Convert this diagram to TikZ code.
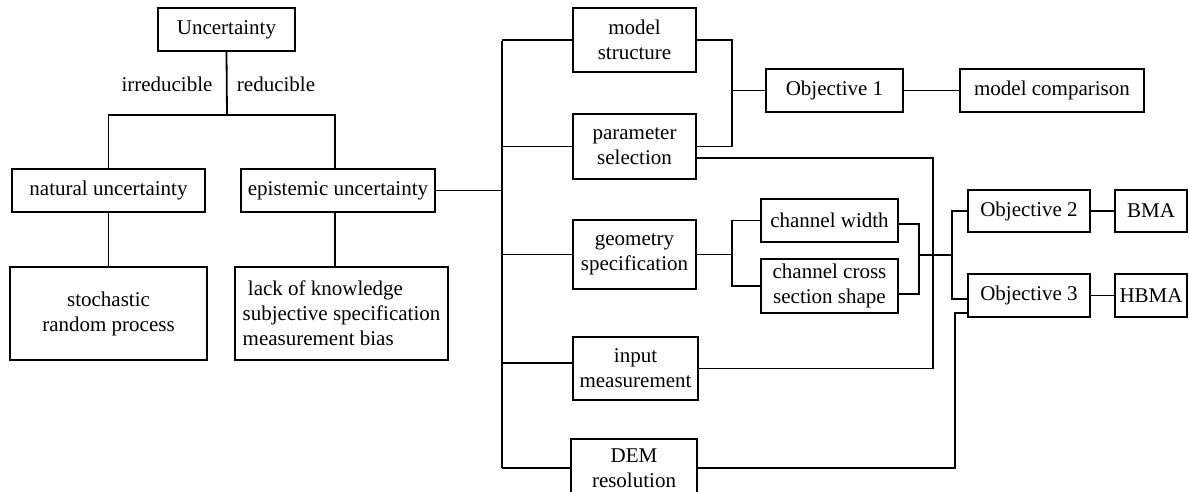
\documentclass[tikz,border=0pt]{standalone}
\usepackage{fontspec}
\setmainfont{Liberation Serif}
\begin{document}
\begin{tikzpicture}[x=1pt,y=-1pt,
  bx/.style={draw, line width=2pt, inner sep=0pt, align=center, font=\fontsize{21}{25}\selectfont},
  lbl/.style={inner sep=0pt, font=\fontsize{21}{25}\selectfont},
  ln/.style={line width=1.8pt}]
\useasboundingbox (0,0) rectangle (1189,491);
\clip (0,0) rectangle (1189,491);
% left tree
\node[bx, minimum width=137, minimum height=43] (unc) at (226.5,29.5) {Uncertainty};
\node[lbl] (irr) at (167,84) {irreducible};
\node[lbl] (red) at (276,84) {reducible};
\node[bx, minimum width=193, minimum height=43] (nat) at (108.5,190.5) {natural uncertainty};
\node[bx, minimum width=194, minimum height=43] (epi) at (338,190.5) {epistemic uncertainty};
\node[bx, minimum width=197, minimum height=93] (sto) at (108.5,313.5) {stochastic\\random process};
\node[bx, minimum width=213, minimum height=93, align=left] (lack) at (341.5,313.5) {\ lack of knowledge\\subjective specification\\measurement bias};
% middle column
\node[bx, minimum width=123, minimum height=64] (ms) at (634.5,40) {model\\structure};
\node[bx, minimum width=123, minimum height=65] (ps) at (634.5,146.5) {parameter\\selection};
\node[bx, minimum width=123, minimum height=69] (gs) at (634.5,254.5) {geometry\\specification};
\node[bx, minimum width=125, minimum height=63] (im) at (635.5,368.5) {input\\measurement};
\node[bx, minimum width=126, minimum height=58] (dem) at (634,468) {DEM\\resolution};
% right part
\node[bx, minimum width=137, minimum height=43] (o1) at (834.5,90.5) {Objective 1};
\node[bx, minimum width=184, minimum height=43] (mc) at (1052,90.5) {model comparison};
\node[bx, minimum width=137, minimum height=43] (cw) at (829.5,220.5) {channel width};
\node[bx, minimum width=137, minimum height=54] (cc) at (829.5,286) {channel cross\\section shape};
\node[bx, minimum width=122, minimum height=42] (o2) at (1029,211) {Objective 2};
\node[bx, minimum width=122, minimum height=43] (o3) at (1029,295.5) {Objective 3};
\node[bx, minimum width=72, minimum height=42] (bma) at (1151,211) {BMA};
\node[bx, minimum width=72, minimum height=43] (hbma) at (1151,295.5) {HBMA};
% coordinates
\coordinate (j1) at (227,115);
\coordinate (bt) at (502,41);
\coordinate (bb) at (502,468);
\coordinate (j2) at (732,90.5);
\coordinate (j3) at (732,254.5);
\coordinate (pv) at (933,0);
\coordinate (j4) at (919,255);
\coordinate (j5) at (952,255);
\coordinate (dv) at (955,0);
\coordinate (o3in) at ([yshift=-17.5pt]o3.west);
\coordinate (o3a) at ([yshift=-3.5pt]o3.west);
% connectors
\draw[ln] (unc.south) -- (j1);
\draw[ln] (nat.north) |- (j1) -| (epi.north -| 335,0);
\draw[ln] (nat.south) -- (nat.south |- sto.north);
\draw[ln] (epi.south -| 335,0) -- (lack.north -| 335,0);
\draw[ln] (bt) -- (bb);
\draw[ln] (epi.east) -- (epi.east -| bt);
\draw[ln] (ms.west -| bt) -- (ms.west);
\draw[ln] (ps.west -| bt) -- (ps.west);
\draw[ln] (gs.west -| bt) -- (gs.west);
\draw[ln] ([yshift=5.5pt]im.west -| bt) -- ([yshift=5.5pt]im.west);
\draw[ln] (bb) -- (dem.west);
\draw[ln] (ms.east) -| (j2) |- (ps.east);
\draw[ln] (j2) -- (o1.west);
\draw[ln] (o1.east) -- (mc.west);
\draw[ln] ([yshift=-11.5pt]ps.east) -| (pv |- im.east) -- (im.east);
\draw[ln] (gs.east) -- (j3);
\draw[ln] (cw.west) -| (j3) |- (cc.west);
\draw[ln] ([yshift=-3.5pt]cw.east) -| (j4) |- ([yshift=-8pt]cc.east);
\draw[ln] (j4) -- (j5);
\draw[ln] (o2.west) -| (j5) |- (o3a);
\draw[ln] (dem.east) -| (o3in -| dv) -- (o3in);
\draw[ln] (o2.east) -- (bma.west);
\draw[ln] (o3.east) -- (hbma.west);
\end{tikzpicture}
\end{document}
